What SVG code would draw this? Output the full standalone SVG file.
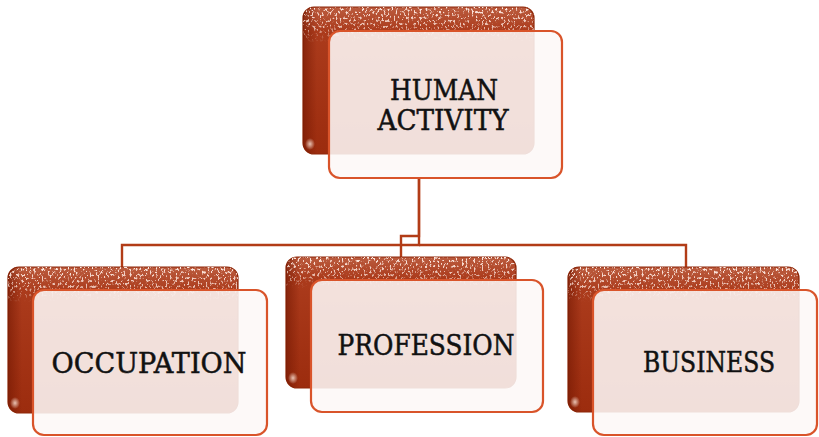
<svg xmlns="http://www.w3.org/2000/svg" width="819" height="437" viewBox="0 0 819 437">
  <defs>
    <!-- body colour of the rear (dark) card -->
    <linearGradient id="backFill" x1="0" y1="0" x2="0" y2="1">
      <stop offset="0" stop-color="#bb5c3f"/>
      <stop offset="0.16" stop-color="#ab3b1c"/>
      <stop offset="1" stop-color="#9c2c0e"/>
    </linearGradient>
    <!-- darker left edge of the rear card -->
    <linearGradient id="backEdge" x1="0" y1="0" x2="1" y2="0">
      <stop offset="0" stop-color="#6e1500" stop-opacity="0.55"/>
      <stop offset="0.06" stop-color="#6e1500" stop-opacity="0"/>
    </linearGradient>
    <!-- fade used as alpha for the speckle overlay -->
    <linearGradient id="speckFade" x1="0" y1="0" x2="0" y2="1">
      <stop offset="0" stop-color="#fff" stop-opacity="1"/>
      <stop offset="0.14" stop-color="#fff" stop-opacity="0.7"/>
      <stop offset="0.24" stop-color="#fff" stop-opacity="0"/>
    </linearGradient>
    <radialGradient id="glint" cx="0.5" cy="0.5" r="0.5">
      <stop offset="0" stop-color="#ffe9dc" stop-opacity="0.8"/>
      <stop offset="1" stop-color="#ffe9dc" stop-opacity="0"/>
    </radialGradient>
    <!-- grainy speckle texture -->
    <filter id="grain" x="0" y="0" width="100%" height="100%">
      <feTurbulence type="fractalNoise" baseFrequency="0.5 0.35" numOctaves="3" seed="7" result="noise"/>
      <feColorMatrix in="noise" type="matrix" values="0 0 0 0 1  0 0 0 0 0.84  0 0 0 0 0.78  0 0 0 7 -3.9" result="spk"/>
      <feComposite in="spk" in2="SourceGraphic" operator="in"/>
    </filter>
  </defs>
  <style>
    .conn { fill: none; stroke: #b23c17; stroke-width: 2.4; stroke-linejoin: miter; }
    .back { fill: url(#backFill); stroke: #8e2708; stroke-width: 1.2; }
    .edge { fill: url(#backEdge); }
    .speck { fill: url(#speckFade); filter: url(#grain); }
    .glint { fill: url(#glint); }
    .front { fill: #fdf8f7; fill-opacity: 0.88; stroke: #d9542a; stroke-width: 2.2; }
    .label { font-family: "DejaVu Serif", "Liberation Serif", serif; font-size: 27px; fill: #111; stroke: #111; stroke-width: 0.5; text-anchor: middle; }
  </style>

  <!-- connectors from the parent card to each child -->
  <g id="connectors">
    <path class="conn" d="M419,178 V245 H122 V267"/>
    <path class="conn" d="M419,178 V236 H401 V257"/>
    <path class="conn" d="M419,245 H686 V267"/>
  </g>

  <g id="node-human">
    <rect class="back" x="303" y="7" width="231" height="147" rx="11"/>
    <rect class="edge" x="303" y="7" width="231" height="147" rx="11"/>
    <rect class="speck" x="303" y="7" width="231" height="147" rx="11"/>
    <ellipse class="glint" cx="310" cy="144" rx="5" ry="6"/>
    <rect class="front" x="329" y="31" width="233" height="147" rx="11"/>
    <text class="label" x="444" y="100" textLength="108" lengthAdjust="spacingAndGlyphs">HUMAN</text>
    <text class="label" x="443" y="130" textLength="131" lengthAdjust="spacingAndGlyphs">ACTIVITY</text>
  </g>

  <g id="node-occupation">
    <rect class="back" x="8" y="267" width="230" height="146" rx="11"/>
    <rect class="edge" x="8" y="267" width="230" height="146" rx="11"/>
    <rect class="speck" x="8" y="267" width="230" height="146" rx="11"/>
    <ellipse class="glint" cx="15" cy="403" rx="5" ry="6"/>
    <rect class="front" x="33" y="290" width="234" height="145" rx="11"/>
    <text class="label" x="149" y="373" textLength="195" lengthAdjust="spacingAndGlyphs">OCCUPATION</text>
  </g>

  <g id="node-profession">
    <rect class="back" x="286" y="257" width="230" height="131" rx="11"/>
    <rect class="edge" x="286" y="257" width="230" height="131" rx="11"/>
    <rect class="speck" x="286" y="257" width="230" height="131" rx="11"/>
    <ellipse class="glint" cx="293" cy="378" rx="5" ry="6"/>
    <rect class="front" x="311" y="280" width="232" height="132" rx="11"/>
    <text class="label" x="426" y="355" textLength="177" lengthAdjust="spacingAndGlyphs">PROFESSION</text>
  </g>

  <g id="node-business">
    <rect class="back" x="568" y="267" width="231" height="145" rx="11"/>
    <rect class="edge" x="568" y="267" width="231" height="145" rx="11"/>
    <rect class="speck" x="568" y="267" width="231" height="145" rx="11"/>
    <ellipse class="glint" cx="575" cy="402" rx="5" ry="6"/>
    <rect class="front" x="593" y="290" width="224" height="145" rx="11"/>
    <text class="label" x="709" y="372" textLength="132" lengthAdjust="spacingAndGlyphs">BUSINESS</text>
  </g>
</svg>
